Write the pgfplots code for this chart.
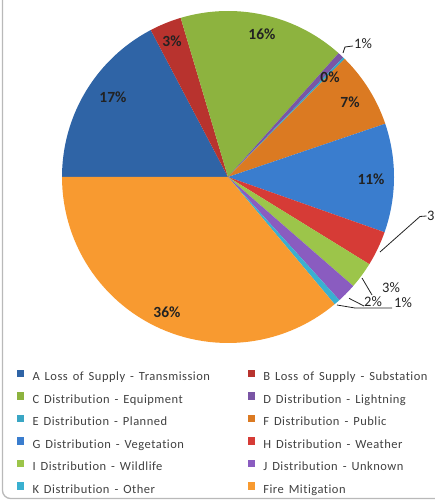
\documentclass[border=0pt]{standalone}
\usepackage{pgfplots}
\pgfplotsset{compat=1.18}
\usepackage{fontspec}
\setmainfont[Ligatures={NoCommon,NoRare},Contextuals={NoAlternate}]{Carlito}
\newfontfamily\legfont[LetterSpace=4,WordSpace=1.5,Ligatures={NoCommon,NoRare},Contextuals={NoAlternate}]{Carlito}
\definecolor{cA}{HTML}{2F64A6}
\definecolor{cB}{HTML}{B8332E}
\definecolor{cC}{HTML}{8DB33F}
\definecolor{cD}{HTML}{7A55A5}
\definecolor{cE}{HTML}{3AA6C4}
\definecolor{cF}{HTML}{DB7A22}
\definecolor{cG}{HTML}{3A7DCE}
\definecolor{cH}{HTML}{D63B36}
\definecolor{cI}{HTML}{9CC54A}
\definecolor{cJ}{HTML}{8A5CC0}
\definecolor{cK}{HTML}{3AB0D0}
\definecolor{cL}{HTML}{F89A30}
\definecolor{lbl}{HTML}{222222}
\definecolor{legtext}{HTML}{404040}
% percentage shares (sum 100), clockwise from 9 o'clock
\newcommand\cum{180}
\newcommand\slice[3]{%
  \pgfmathsetmacro\sA{\cum}%
  \pgfmathsetmacro\sB{\cum-3.6*#1}%
  \global\let\cum\sB
  \edef\temp{\noexpand\addplot[fill=#2,draw=none,domain=\sB:\sA,samples=60]
    ({228+166*cos(x)},{323+166*sin(x)}) -- (228,323) -- cycle;}%
  \temp
  \addlegendentry{#3}%
}
\newcommand\lA[1]{\makebox[223.3pt][l]{\hspace*{8.3pt}#1}}
\newcommand\lB[1]{\hspace*{8.3pt}#1}
\begin{document}
\begin{tikzpicture}
\begin{axis}[name=ax, x=1pt, y=1pt, xmin=0, xmax=435, ymin=0, ymax=500,
  hide axis, clip=false,
  legend columns=2,
  legend cell align=left,
  legend image code/.code={\fill[#1,draw=none] (0pt,0.3pt) rectangle (7.5pt,7.8pt);},
  legend style={draw=none, fill=none, at={(axis cs:16.7,130)}, anchor=north west,
    inner sep=0pt, outer sep=0pt, font=\legfont\fontsize{12.5}{14}\selectfont\color{legtext},
    nodes={inner sep=0pt, outer sep=0pt, text height=9pt, text depth=3pt},
    /tikz/column sep=0pt, /tikz/row sep=8.7pt},
]
\slice{17.3}{cA}{\lA{A Loss of Supply - Transmission}}
\slice{3.1}{cB}{\lB{B Loss of Supply - Substation}}
\slice{16.2}{cC}{\lA{C Distribution - Equipment}}
\slice{0.6}{cD}{\lB{D Distribution - Lightning}}
\slice{0.2}{cE}{\lA{E Distribution - Planned}}
\slice{7.4}{cF}{\lB{F Distribution - Public}}
\slice{10.6}{cG}{\lA{G Distribution - Vegetation}}
\slice{3.4}{cH}{\lB{H Distribution - Weather}}
\slice{2.6}{cI}{\lA{I Distribution - Wildlife}}
\slice{1.9}{cJ}{\lB{J Distribution - Unknown}}
\slice{0.6}{cK}{\lA{K Distribution - Other}}
\slice{36.1}{cL}{\lB{Fire Mitigation}}
% data labels
\begin{scope}[every node/.style={font=\bfseries\fontsize{15.5}{15.5}\selectfont, text=lbl, inner sep=0pt}]
\node at (axis cs:113,403) {17\%};
\node at (axis cs:172,459) {3\%};
\node at (axis cs:262,466) {16\%};
\node at (axis cs:330,423) {0\%};
\node at (axis cs:350,398) {7\%};
\node at (axis cs:371,321) {11\%};
\node at (axis cs:167,188) {36\%};
\end{scope}
\begin{scope}[every node/.style={font=\fontsize{14.5}{14.5}\selectfont, text=lbl, inner sep=0pt}]
\node[anchor=west] at (axis cs:354,456) {1\%};
\node[anchor=west] at (axis cs:427,284) {3\%};
\node at (axis cs:391,212) {3\%};
\node at (axis cs:373,198) {2\%};
\node at (axis cs:403,197) {1\%};
\end{scope}
\begin{scope}[draw=lbl, line width=0.8pt]
\draw (axis cs:343,447) -- (axis cs:345,453) -- (axis cs:353,454);
\draw (axis cs:380,248) -- (axis cs:420,283.5) -- (axis cs:426.5,284);
\draw (axis cs:362,222) -- (axis cs:372,205);
\draw (axis cs:349,201.7) -- (axis cs:364,194);
\draw (axis cs:337,195) -- (axis cs:355,192) -- (axis cs:392,192);
\end{scope}
% chart frame
\draw[gray!55, line width=1.3pt, rounded corners=8pt] (axis cs:2.5,520) -- (axis cs:2.5,1.5) -- (axis cs:460,1.5);
\end{axis}
\pgfresetboundingbox
\path (ax.south west) rectangle (ax.north east);
\end{tikzpicture}
\end{document}
